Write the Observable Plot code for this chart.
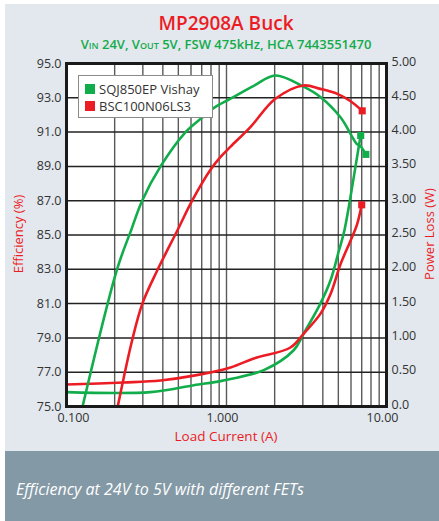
<!DOCTYPE html>
<html><head><meta charset="utf-8">
<script src="https://cdn.jsdelivr.net/npm/d3@7"></script>
<script src="https://cdn.jsdelivr.net/npm/@observablehq/plot@0.6"></script>
<style>
body{margin:0;background:#fff;font-family:"Open Sans",sans-serif;}
#wrap{position:relative;width:439px;height:521px;overflow:hidden;}
#panel{position:absolute;left:5px;top:4px;width:434px;height:447px;background:#e2e8ee;}
#cap{position:absolute;left:5px;top:451px;width:434px;height:70px;background:#8399a6;color:#fff;font-style:italic;font-size:16px;}
#cap span{position:absolute;left:11px;top:27px;}
.abs{position:absolute;}
#title{left:0;width:452px;text-align:center;top:10px;color:#ec1c24;font-size:19px;font-weight:600;}
#sub{left:0;width:452px;text-align:center;top:35px;color:#14ab4a;font-size:13px;font-weight:600;}
.sc{font-variant:small-caps;}
.ylab{color:#ec1c24;font-size:13px;white-space:nowrap;transform:translate(-50%,-50%) rotate(-90deg);}
#xlab{color:#ec1c24;font-size:13.5px;line-height:14px;left:0;width:452px;text-align:center;top:429px;}
#legend{left:78px;top:75px;width:133px;height:41px;background:#fff;border:1.5px solid #8a8a8a;font-size:13px;color:#333;}
.lg{position:absolute;left:6px;display:flex;align-items:center;white-space:nowrap;}
.sw{width:10px;height:10px;margin-right:4px;}
#chart{position:absolute;left:0;top:0;}
</style></head>
<body>
<div id="wrap">
<div id="panel"></div>
<div id="cap"><span>Efficiency at 24V to 5V with different FETs</span></div>
<div id="chart"></div>
<div class="abs" id="title">MP2908A Buck</div>
<div class="abs" id="sub"><span class="sc">Vin</span> 24V, <span class="sc">Vout</span> 5V, FSW 475kHz, HCA 7443551470</div>
<div class="abs ylab" style="left:18px;top:234px;">Efficiency (%)</div>
<div class="abs ylab" style="left:429px;top:234px;">Power Loss (W)</div>
<div class="abs" id="xlab">Load Current (A)</div>
<div class="abs" id="legend">
 <div class="lg" style="top:4px;"><div class="sw" style="background:#12ad4b"></div>SQJ850EP Vishay</div>
 <div class="lg" style="top:21px;"><div class="sw" style="background:#ec1c24"></div>BSC100N06LS3</div>
</div>
</div>
<script>
// Series names
const seriesNames = ["SQJ850EP Vishay", "BSC100N06LS3"];
// Efficiency (%) vs load current (A)
const greenEffI = [0.126, 0.207, 0.254, 0.297, 0.387, 0.555, 0.705, 0.83, 1.06, 1.48, 2.02, 3.03, 3.86, 5.17, 6.54, 6.84, 7.43];
const greenEff  = [75.0, 83.0, 85.3, 87.0, 89.0, 91.0, 91.85, 92.4, 92.95, 93.7, 94.3, 93.65, 93.05, 91.85, 90.3, 90.2, 89.7];
const redEffI   = [0.209, 0.257, 0.298, 0.369, 0.493, 0.61, 0.794, 0.918, 1.06, 1.41, 2.02, 3.03, 3.86, 4.93, 5.97, 7.05];
const redEff    = [75.0, 78.85, 81.0, 82.93, 85.26, 87.0, 88.8, 89.55, 90.15, 91.29, 92.94, 93.72, 93.52, 93.23, 92.8, 92.24];
// Power loss (W) vs load current (A)
const greenLossI = [0.1, 0.335, 0.625, 0.918, 1.06, 1.71, 2.63, 3.03, 3.86, 4.47, 5.04, 5.46, 6.24, 6.7, 6.9];
const greenLoss  = [0.21, 0.21, 0.31, 0.37, 0.40, 0.53, 0.82, 1.06, 1.50, 1.84, 2.27, 2.57, 3.34, 3.78, 3.95];
const redLossI   = [0.1, 0.228, 0.387, 0.625, 1.06, 1.48, 2.51, 3.03, 3.86, 4.47, 5.17, 5.97, 6.54, 7.0];
const redLoss    = [0.32, 0.35, 0.38, 0.45, 0.57, 0.70, 0.86, 1.06, 1.35, 1.64, 2.08, 2.42, 2.65, 2.94];
// Axis ticks
const effTicks = [75, 77, 79, 81, 83, 85, 87, 89, 91, 93, 95];
const xTicks = [0.1, 1, 10];
const xGrid = [0.2,0.3,0.4,0.5,0.6,0.7,0.8,0.9,1,2,3,4,5,6,7,8,9];

const GREEN = "#12ad4b", RED = "#ec1c24";
const toEff = p => 75 + p * 4; // power axis 0-5 W mapped onto 75-95 %
const mk = (xs, ys, f = v => v) => xs.map((x, i) => ({x, y: f(ys[i])}));
const gE = mk(greenEffI, greenEff), rE = mk(redEffI, redEff);
const gL = mk(greenLossI, greenLoss, toEff), rL = mk(redLossI, redLoss, toEff);
const last = a => [a[a.length - 1]];

const chart = Plot.plot({
  width: 439, height: 450,
  marginLeft: 66, marginRight: 53, marginTop: 63, marginBottom: 44,
  style: {background: "transparent", fontFamily: "Open Sans", fontSize: "12px", color: "#333"},
  x: {type: "log", domain: [0.1, 10]},
  y: {domain: [75, 95]},
  marks: [
    Plot.frame({fill: "white", stroke: null}),
    Plot.ruleX(xGrid, {stroke: "#5a5a5a", strokeWidth: 1.4}),
    Plot.ruleY(effTicks, {stroke: "#222", strokeWidth: 1.5}),
    Plot.axisY({ticks: effTicks, tickFormat: d => d.toFixed(1), tickSize: 0, tickPadding: 5, label: null, fontSize: 12.5, fill: "#333"}),
    Plot.axisY({anchor: "right", ticks: effTicks, tickFormat: d => d === 75 ? "0.0" : ((d - 75) / 4).toFixed(2), tickSize: 0, tickPadding: 5, label: null, fontSize: 12.5, fill: "#333", dy: -2}),
    Plot.axisX({ticks: [xTicks[0]], tickFormat: d => d.toFixed(3), tickSize: 0, tickPadding: 7, label: null, dx: 7, fontSize: 12.5, fill: "#333"}),
    Plot.axisX({ticks: xTicks.slice(1), tickFormat: d => d < 10 ? d.toFixed(3) : d.toFixed(2), tickSize: 0, tickPadding: 7, label: null, dx: -4, fontSize: 12.5, fill: "#333"}),
    Plot.line(gL, {x: "x", y: "y", stroke: GREEN, strokeWidth: 2.6, curve: "catmull-rom"}),
    Plot.line(rL, {x: "x", y: "y", stroke: RED, strokeWidth: 2.6, curve: "catmull-rom"}),
    Plot.line(gE, {x: "x", y: "y", stroke: GREEN, strokeWidth: 2.6, curve: "catmull-rom"}),
    Plot.line(rE, {x: "x", y: "y", stroke: RED, strokeWidth: 2.6, curve: "catmull-rom"}),
    Plot.dot(last(gE).concat(last(gL)), {x: "x", y: "y", symbol: "square", r: 4, fill: GREEN}),
    Plot.dot(last(rE).concat(last(rL)), {x: "x", y: "y", symbol: "square", r: 4, fill: RED}),
    Plot.frame({stroke: "#1a1a1a", strokeWidth: 3})
  ]
});
document.getElementById("chart").appendChild(chart);
</script>
</body></html>
